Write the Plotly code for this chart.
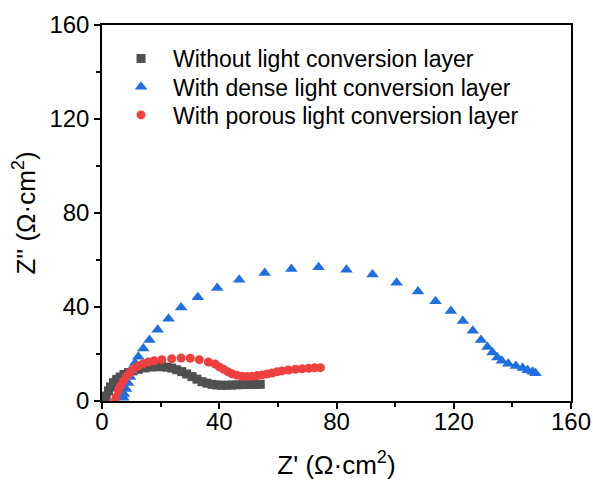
import plotly.graph_objects as go

# Nyquist data: Z' (real) and Z'' (imaginary), in Ohm*cm^2
without_zr = [1.0, 1.4, 2.2, 2.9, 3.9, 5.0, 6.2, 7.5, 9.0, 10.6, 12.4, 14.7, 17.0, 18.7,
              20.4, 22.1, 23.8, 25.5, 27.2, 28.9, 30.7, 32.4, 34.1, 35.8, 37.5, 39.2,
              40.9, 42.6, 44.3, 46.1, 47.8, 49.5, 51.2, 52.6, 54.0]
without_zi = [0.0, 2.1, 4.3, 6.0, 7.8, 9.2, 10.2, 11.3, 12.1, 12.8, 13.5, 14.1, 14.5, 14.6,
              14.6, 14.4, 14.0, 13.3, 12.5, 11.5, 10.4, 9.3, 8.2, 7.6, 7.1, 6.8,
              6.7, 6.7, 6.8, 6.9, 7.0, 7.0, 7.1, 7.1, 7.1]

dense_zr = [7.3, 7.5, 8.2, 8.9, 9.6, 10.3, 11.3, 12.4, 14.1, 16.2, 19.0, 22.7, 27.0, 32.7,
            39.3, 46.8, 55.5, 64.6, 73.9, 83.4, 92.3, 100.5, 107.8, 113.8, 119.0, 123.1,
            126.5, 129.3, 131.5, 133.2, 134.9, 136.4, 138.6, 141.2, 143.5, 145.2, 146.9, 147.9]
dense_zi = [1.4, 3.0, 5.1, 7.7, 10.2, 12.8, 16.2, 18.8, 22.3, 26.0, 30.3, 35.0, 39.8, 44.1,
            48.1, 51.6, 54.5, 56.2, 56.9, 55.9, 53.8, 50.3, 46.6, 42.5, 38.3, 34.0,
            29.9, 26.0, 23.0, 20.6, 18.5, 17.1, 15.9, 14.9, 14.0, 13.1, 12.4, 11.8]

porous_zr = [4.4, 4.8, 5.6, 6.3, 7.3, 8.4, 9.6, 10.9, 12.4, 14.0, 15.8, 17.8, 20.4, 23.8,
             27.0, 30.1, 33.2, 36.3, 38.6, 40.0, 41.5, 42.9, 44.3, 46.0, 47.8, 49.5,
             51.2, 52.9, 54.6, 56.3, 58.0, 59.7, 61.4, 63.6, 66.0, 68.3, 70.5, 72.5, 74.5]
porous_zi = [0.0, 1.7, 4.3, 6.4, 8.5, 10.5, 12.1, 13.7, 14.9, 15.8, 16.6, 17.1, 17.6, 18.0,
             18.3, 18.2, 17.6, 16.6, 15.7, 14.5, 13.5, 12.5, 11.6, 11.0, 10.5, 10.4,
             10.5, 10.8, 11.1, 11.5, 11.9, 12.4, 12.8, 13.2, 13.5, 13.7, 13.9, 14.1, 14.2]

series_names = ["Without light conversion layer",
                "With dense light conversion layer",
                "With porous light conversion layer"]
tick_vals = [0, 40, 80, 120, 160]
minor_vals = [20, 60, 100, 140]

fig = go.Figure()
fig.add_trace(go.Scatter(x=without_zr, y=without_zi, mode="markers", name=series_names[0],
                         legend="legend",
                         marker=dict(symbol="square", size=9, color="#505050")))
fig.add_trace(go.Scatter(x=dense_zr, y=dense_zi, mode="markers", name=series_names[1],
                         legend="legend2",
                         marker=dict(symbol="triangle-up", size=11, color="#1F6FE0")))
fig.add_trace(go.Scatter(x=porous_zr, y=porous_zi, mode="markers", name=series_names[2],
                         legend="legend3",
                         marker=dict(symbol="circle", size=9, color="#EF4040")))

axis_common = dict(
    range=[0, 160], tickvals=tick_vals, ticks="outside", ticklen=6, tickwidth=1.5,
    tickcolor="black", showline=True, linecolor="black", linewidth=1.5, mirror=True,
    showgrid=False, zeroline=False, ticklabeloverflow="allow", automargin=False,
    tickfont=dict(family="Liberation Sans, Arial", size=24, color="black"),
    minor=dict(tickvals=minor_vals, ticks="outside", ticklen=4,
               tickwidth=1.5, tickcolor="black"),
)

# one legend box per series so the row spacing can be set exactly
legend_style = dict(x=0.015, xanchor="left", yanchor="top", bgcolor="rgba(0,0,0,0)",
                    font=dict(family="Liberation Sans, Arial", size=23), itemwidth=54)

fig.update_layout(
    width=593, height=486,
    margin=dict(l=102, r=22, t=25, b=85, autoexpand=False),
    plot_bgcolor="white", paper_bgcolor="white",
    font=dict(family="Liberation Sans, Arial", color="black"),
    xaxis=dict(axis_common, ticklabelstandoff=-8,
               title=dict(text="Z' (Ω·cm<sup>2</sup>)", standoff=22, font=dict(size=26))),
    yaxis=dict(axis_common,
               title=dict(text="Z'' (Ω·cm<sup>2</sup>)", standoff=6, font=dict(size=26))),
    legend=dict(legend_style, y=0.968),
    legend2=dict(legend_style, y=0.893),
    legend3=dict(legend_style, y=0.818),
    showlegend=True,
)

fig.write_html("out.html")
